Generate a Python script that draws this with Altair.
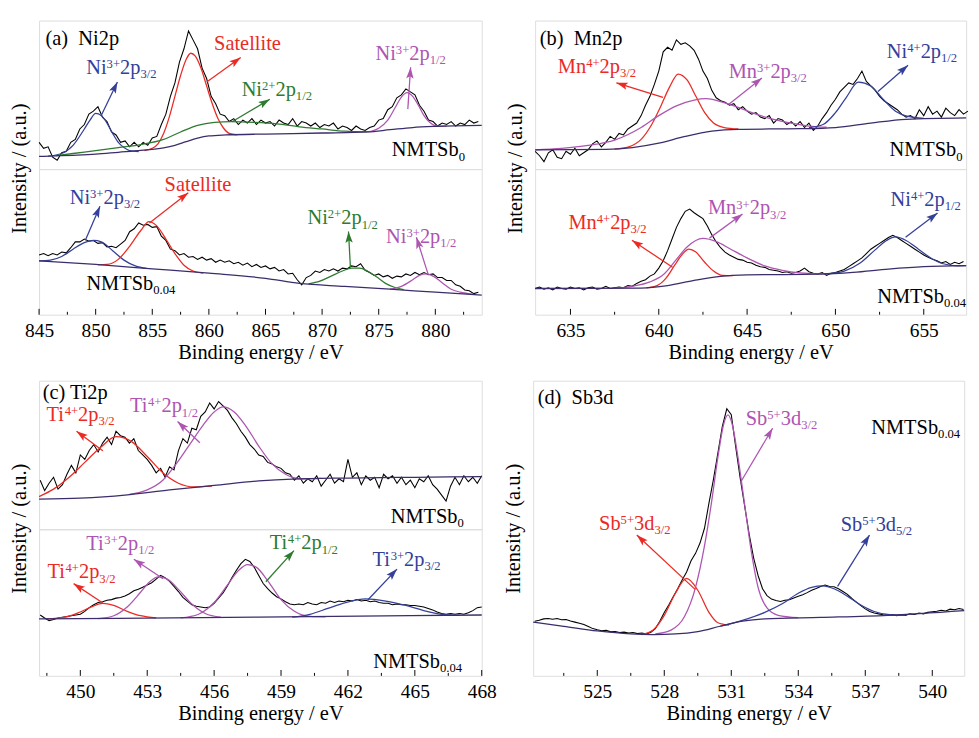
import math
import re
import altair as alt
import pandas as pd

FONT = "Liberation Serif"
FS = 21          # annotation / title font size
FS_TICK = 20     # tick label size
FS_S = 13        # super/subscript size
RED, BLUE, GREEN, MAG, BASE = "#ec2a24", "#34409a", "#2e7b30", "#ad55b1", "#3b2d6b"
ARROW_PATH = "M0,0 L-0.55,1.7 L0,1.35 L0.55,1.7 Z"

W_L, W_R = 456, 444
H_TOP, H_A_BOT, H_C_BOT, H_D = 153, 150, 151, 304

# ======================= data =======================
# ---- (a) Ni2p ----
A_XDOM = [845.0, 884.1]
A_E0, A_STEP = 845.0, 0.4
A_TOP_I = [18, 14, 15, 8, 6, 11, 12, 18, 20, 27,
           30, 37, 39, 42, 35, 32, 25, 23, 18, 19,
           15, 18, 15, 18, 16, 21, 22, 30, 37, 49,
           58, 72, 81, 93, 87, 81, 68, 61, 49, 44,
           37, 36, 32, 34, 30, 33, 31, 34, 30, 33,
           31, 32, 29, 33, 31, 30, 34, 29, 32, 31,
           29, 31, 28, 30, 29, 31, 27, 29, 28, 26,
           29, 27, 26, 28, 29, 33, 34, 40, 42, 48,
           50, 54, 52, 50, 43, 39, 33, 32, 29, 31,
           30, 32, 29, 31, 30, 33, 31, 32]
A_BOT_I = [41, 42, 40.5, 42, 41, 43, 42.5, 46, 50, 50,
           52, 50.5, 51, 49, 49.5, 46.5, 47, 46, 48.5, 51,
           57, 59, 63, 61.5, 62, 60, 60.5, 54, 51, 45,
           44, 41, 42, 39.5, 40, 38, 39.5, 37.5, 38.5, 36,
           37.5, 36, 37, 35, 36, 34, 35.5, 33, 34.5, 32.5,
           33.5, 31.5, 32.5, 30, 31, 28, 28.5, 24, 20.5, 25.5,
           27, 30, 29, 31, 30, 31.5, 30, 32, 31.5, 33.5,
           33, 35, 30.5, 29, 27, 28, 26, 27, 25, 26.5,
           26, 28, 27, 29, 27.5, 29, 27.5, 28, 25.5, 25.5,
           23.5, 23.5, 20.5, 19.5, 17, 16.5, 14.5, 15.5]
A_TOP_CURVES = {
    "bg": ([845.0, 846.0, 848, 850, 852, 854, 856, 857, 858, 859, 860, 861.5, 865, 870, 874, 876, 878, 880, 884.1],
           [8.5, 8.8, 9.3, 10, 11.3, 12.6, 14.3, 16, 18.5, 20.8, 22.3, 23, 23.6, 24.3, 25, 26.5, 28, 28.8, 29.5]),
    "Ni3+ 2p3/2": ([845.8, 847.0, 848.0, 849.0, 849.5, 850.0, 850.5, 851.0, 851.5, 852.0, 852.5, 853.0, 853.8],
                   [8.7, 10.5, 16, 27, 33, 37.5, 36, 31, 24, 18, 14.5, 12.5, 11.8]),
    "Satellite": ([854.3, 855.0, 855.5, 856.0, 856.5, 857.0, 857.5, 858.0, 858.4, 858.8, 859.3, 859.8, 860.3, 860.8, 861.3, 861.8, 862.5],
                  [12.5, 14, 17, 24, 35, 49, 63, 74, 78, 76, 68, 56, 44, 34, 27.5, 24, 23]),
    "Ni2+ 2p1/2": ([846.5, 848, 850, 852, 854, 856, 857.5, 859, 860.5, 862, 864, 866, 868, 870, 872, 874],
                   [9, 10.5, 12.5, 14.5, 16.5, 20, 25, 29.5, 31.5, 32, 31.5, 30.5, 28.5, 27, 25.5, 25]),
    "Ni3+ 2p1/2": ([874.0, 875.0, 875.8, 876.5, 877.0, 877.5, 878.0, 878.5, 879.0, 879.5, 880.2, 881.0],
                   [25, 27.5, 33, 42, 48.5, 51.5, 49, 43, 36, 31.5, 29, 29]),
}
A_BOT_CURVES = {
    "bg": ([845.0, 850, 855, 860, 865, 868, 872, 876, 880, 884.1],
           [37, 34.5, 31.5, 28.5, 25, 21.5, 19.5, 17.5, 15.5, 13.5]),
    "Ni3+ 2p3/2": ([845.0, 846, 847, 848, 849, 849.8, 850.5, 851.5, 852.5, 853.5, 854.5],
                   [37, 37.5, 40, 45, 49.5, 51, 50, 44, 37.5, 33.5, 31.8]),
    "Satellite": ([850.2, 851.0, 852.0, 853.0, 854.0, 854.7, 855.4, 856.2, 857.0, 857.8, 858.6, 859.5],
                  [34.3, 34.5, 38, 47, 58, 64, 61, 52, 42, 34, 30, 28.5]),
    "Ni2+ 2p1/2": ([868.8, 869.8, 870.8, 871.8, 872.6, 873.3, 874.0, 874.8, 875.6, 876.5, 877.2],
                   [21.2, 23, 26.5, 30, 32, 32, 30, 26, 21.5, 18.5, 17.3]),
    "Ni3+ 2p1/2": ([876.0, 877.0, 878.0, 878.6, 879.2, 879.8, 880.6, 881.4, 882.2, 883.4],
                   [17.5, 19.5, 24, 27, 28, 26.5, 22, 17.5, 15.5, 14]),
}
A_MAJOR = [845, 850, 855, 860, 865, 870, 875, 880]
A_MINOR = [847.5, 852.5, 857.5, 862.5, 867.5, 872.5, 877.5, 882.5]

# ---- (b) Mn2p ----
B_XDOM = [633.0, 657.4]
B_E0, B_STEP = 633.0, 0.25
B_TOP_I = [12, 9, 5, 11, 13, 8, 7, 12, 10, 14, 9, 11,
           13, 17, 19, 15, 18, 22, 20, 24, 23, 27,
           29, 31, 36, 43, 49, 57,
           66, 79, 82, 80, 87, 84, 85, 83, 80, 74, 66, 61,
           53, 48, 46, 45, 43, 44, 40, 42, 39, 37, 38, 35, 34, 36, 31, 34, 33, 30, 32, 29,
           32, 28, 31, 26, 29, 34,
           38, 43, 47, 52, 55, 58, 57, 61, 66, 59, 56, 53, 49, 46, 44, 42, 40,
           37, 35, 36, 34, 40, 36, 42, 37, 39, 35, 41, 38, 36, 40, 37, 39]
B_BOT_I = [18, 19, 17.5, 18.5, 17, 19, 18, 17.5, 19, 18,
           18.5, 17, 18.5, 19, 17.5, 18, 19.5, 18, 18.5, 19,
           18.5, 20, 19.5, 21.5, 23, 24, 26.5, 28, 32, 37,
           44, 52, 60, 66, 71, 72.5, 70, 68, 66, 61,
           55, 50, 46, 43, 41, 39.5, 38, 37.5, 36, 35.5,
           34, 33, 32.5, 31, 30.5, 30, 29, 29.5, 28.5, 29,
           30, 32, 29.5, 28.5, 28, 29, 27, 28.5, 29, 30,
           31, 33, 35, 37, 39, 42, 45, 47, 49, 51,
           53, 54.5, 53, 51, 49, 47, 45, 43, 41, 39.5,
           38, 37, 35.5, 36.5, 34.5, 36, 35, 36.5]
B_TOP_CURVES = {
    "bg": ([633, 637, 638.5, 640, 641.5, 643, 644.5, 648, 650, 652, 654, 657.4],
           [13, 13.3, 14.5, 17.5, 22, 25.5, 26.8, 27.2, 28, 31, 33.5, 34.5]),
    "Mn4+ 2p3/2": ([637.5, 638.3, 639.0, 639.6, 640.1, 640.6, 641.1, 641.6, 642.1, 642.6, 643.1, 643.7, 644.5],
                   [13.5, 15, 20, 30, 42, 55, 64, 60, 49, 38, 31, 28, 27]),
    "Mn3+ 2p3/2": ([633, 634.5, 636, 637.5, 639, 640, 641, 642, 642.7, 643.5, 644.5, 645.5, 646.5, 647.5, 648.5, 649.5],
                   [13, 14, 16, 19.5, 28, 36, 42.6, 46.5, 47.4, 45.5, 41.5, 37, 33.5, 31, 29, 28.2]),
    "Ni4+ 2p1/2": ([648.5, 649.3, 650.0, 650.6, 651.3, 652.0, 652.7, 653.4, 654.1, 655.0],
                   [28, 30, 38, 48, 58.5, 56, 47, 39, 35.5, 34.2]),
}
B_BOT_CURVES = {
    "bg": ([633, 639, 640.5, 642, 643.5, 645, 649, 651, 653, 655, 657.4],
           [18, 18.3, 20, 23.5, 26.3, 27.3, 27.8, 29, 31.3, 33, 33.7]),
    "Mn4+ 2p3/2": ([639.3, 639.9, 640.4, 640.9, 641.3, 641.7, 642.1, 642.6, 643.1, 643.6, 644.2],
                   [18.5, 20, 25, 34, 41, 45, 43, 36, 30, 27, 26.8]),
    "Mn3+ 2p3/2": ([637.5, 638.5, 639.5, 640.3, 641.0, 641.6, 642.5, 643.3, 644.0, 645, 646, 647, 648, 649.4],
                   [18.2, 19.5, 22.5, 28, 38, 46.5, 52.4, 50, 45.5, 39, 33.5, 30.5, 28.8, 28]),
    "Ni4+ 2p1/2": ([649.4, 650.5, 651.4, 652.2, 652.9, 653.4, 654.0, 654.7, 655.4, 656.1, 656.9, 657.4],
                   [28, 30, 35.5, 44, 51, 53.4, 51, 45, 39, 35, 33.6, 33.7]),
}
B_MAJOR = [635, 640, 645, 650, 655]
B_MINOR = [637.5, 642.5, 647.5, 652.5]

# ---- (c) Ti2p ----
C_XDOM = [448.15, 468.0]
C_E0, C_STEP = 448.2, 0.2
C_TOP_I = [33, 26, 31, 35, 27, 30, 37, 43, 38, 50,
           47, 53, 57, 52, 58, 62, 57, 66, 63, 62,
           58, 61, 53, 50, 47, 43, 38, 41, 35, 42,
           40, 53, 61, 58, 68, 67, 76, 79, 85, 81,
           86, 83, 80, 75, 71, 66, 62, 57, 54, 50,
           49, 45, 44, 42, 41, 38, 37, 33, 36, 31,
           34, 32, 36, 29, 33, 37, 31, 34, 32, 47,
           35, 38, 30, 36, 33, 35, 28, 37, 34, 36,
           31, 35, 30, 33, 28, 34, 32, 36, 30, 27,
           23, 19, 29, 35, 30, 36, 32, 35, 31, 36]
C_BOT_I = [41.5, 39.5, 37.7, 38.5, 39.5, 40, 40.5, 41, 41.5, 42,
           44, 46.5, 48.5, 50, 50.5, 51.5, 52, 53, 53.5, 54.5,
           56, 58, 59, 60.5, 62, 63.5, 66, 68.5, 67, 64.5,
           61, 57.5, 53.5, 51, 48.5, 47.5, 47, 46.5, 47, 49.5,
           53, 56.5, 61.5, 67, 72, 76.5, 79.5, 78, 74, 68.5,
           63, 59.5, 56.5, 54, 52.5, 50.5, 49, 48.5, 49, 48.5,
           50, 49, 48.5, 50, 49.5, 51, 50, 51, 50.5, 51.5,
           51, 52, 51, 51.5, 50.5, 51, 50, 49.5, 49.5, 48.5,
           49, 48.5, 48.5, 48, 48, 47.5, 47, 46, 45, 43.5,
           42.5, 42, 42.5, 42, 42.5, 42, 43, 44.5, 46.5, 47]
C_TOP_CURVES = {
    "bg": ([448.15, 450, 452, 454, 456, 458, 459.5, 462, 465, 468],
           [20.3, 21, 23, 26.5, 29.5, 32.5, 33.8, 34.5, 35, 35.5]),
    "Ti4+ 2p3/2": ([448.15, 448.8, 449.5, 450.2, 450.9, 451.6, 452.3, 453.0, 453.7, 454.4, 455.1, 455.9],
                   [22, 27, 35, 45, 55, 62.3, 59, 49, 38, 31, 28.5, 29]),
    "Ti4+ 2p1/2": ([452.2, 453.0, 453.7, 454.3, 454.9, 455.5, 456.0, 456.4, 456.9, 457.4, 458.0, 458.6, 459.2, 459.9, 460.8],
                   [23.5, 26.5, 33, 44, 57, 70, 79, 82.4, 79, 70, 56, 44, 37, 34, 34.2]),
}
C_BOT_CURVES = {
    "bg": ([448.15, 458, 468], [38.8, 40, 41.5]),
    "Ti4+ 2p3/2": ([448.5, 449.3, 449.9, 450.5, 451.0, 451.5, 452.1, 452.7, 453.4],
                   [38.8, 40, 43, 47, 49.4, 48, 44, 41, 39.5]),
    "Ti3+ 2p1/2": ([450.8, 451.5, 452.1, 452.7, 453.1, 453.5, 453.9, 454.4, 455.0, 455.6, 456.3],
                   [39, 41, 47, 57, 64, 67.5, 66, 59, 49, 42.5, 40]),
    "Ti4+ 2p1/2": ([454.5, 455.3, 456.0, 456.6, 457.1, 457.5, 457.9, 458.4, 459.0, 459.6, 460.3, 461],
                   [39.5, 42, 50, 62, 72, 75.9, 74, 65, 52, 44, 40.5, 40.2]),
    "Ti3+ 2p3/2": ([459.5, 460.3, 461.1, 461.9, 462.8, 463.7, 464.6, 465.4, 466.2, 467],
                   [40, 42, 46, 50, 52.5, 51, 48, 44.5, 42, 41.3]),
}
C_MAJOR = [450, 453, 456, 459, 462, 465, 468]
C_MINOR = [448.5, 451.5, 454.5, 457.5, 460.5, 463.5, 466.5]

# ---- (d) Sb3d ----
D_XDOM = [522.13, 541.43]
D_E0, D_STEP = 522.2, 0.2
D_I = [18.5, 18.8, 19.3, 19.4, 19.2, 19.4, 19.0, 19.1, 18.6, 18.2,
       17.8, 17.4, 16.7, 16.0, 15.6, 15.3, 15.4, 14.9, 15.0, 14.7,
       14.8, 14.5, 14.7, 14.3, 14.5, 14.2, 14.8, 16.0, 18.5, 21.5,
       24, 26.8, 29.5, 32.5, 35.2, 39, 41.5, 45, 50, 58.5,
       66.5, 75.5, 84.5, 90.5, 88.5, 77.5, 67, 57.5, 48, 40,
       34, 29.5, 27.2, 26, 25.5, 25.2, 25.6, 25.8, 26.4, 27,
       27.5, 28.2, 29, 29.6, 30.3, 30.8, 30.3, 30.2, 29.5, 28.6,
       27.6, 26.2, 25.0, 23.8, 22.7, 21.8, 21.3, 21, 20.7, 20.5,
       20.8, 20.4, 20.7, 20.5, 21, 20.8, 21.3, 21.0, 21.5, 21.7,
       21.9, 22.2, 22.0, 22.6, 22.4, 22.8, 22.5]
D_CURVES = {
    "bg": ([522.13, 523.5, 525, 526.5, 527.5, 528.5, 529.5, 530.5, 531.5, 532.5, 535, 538, 541.43],
           [18.2, 16.8, 15.2, 14.2, 14, 14.2, 15, 16.8, 18.5, 19.3, 19.8, 20.5, 22.1]),
    "Sb5+ 3d3/2 (low)": ([527.0, 527.5, 528.0, 528.5, 529.0, 529.5, 530.0, 530.4, 530.9],
                         [14, 15.5, 20.5, 28, 33, 29, 21.5, 18, 17.2]),
    "Sb5+ 3d3/2": ([527.6, 528.3, 528.9, 529.4, 529.8, 530.1, 530.4, 530.65, 530.85, 531.05, 531.3, 531.6, 531.9, 532.2, 532.6, 533.1, 534.0],
                   [14.2, 15.5, 20, 30, 44, 58, 74, 85, 88.4, 85, 74, 58, 42, 30, 23, 20.5, 19.7]),
    "Sb5+ 3d5/2": ([530.5, 531.5, 532.5, 533.3, 534.0, 534.6, 535.1, 535.6, 536.2, 536.8, 537.4, 538.1, 538.8],
                   [16.8, 18.8, 21.5, 24.5, 28, 30, 30.5, 29.5, 27, 24, 21.8, 20.7, 20.5]),
}
D_MAJOR = [525, 528, 531, 534, 537, 540]
D_MINOR = [523.5, 526.5, 529.5, 532.5, 535.5, 538.5]

# ---- annotation texts (^{} superscript, _{} subscript) and anchors (energy, intensity) ----
A_TOP_TEXT = ["(a)\u00a0 Ni2p", "Ni^{3+}2p_{3/2}", "Satellite", "Ni^{2+}2p_{1/2}", "Ni^{3+}2p_{1/2}", "NMTSb_{0}"]
A_TOP_TE = [845.57, 852.27, 863.41, 866.0, 877.82, 882.62]
A_TOP_TI = [87.6, 68.6, 84.3, 53.5, 77.7, 12.9]
A_BOT_TEXT = ["Ni^{3+}2p_{3/2}", "Satellite", "Ni^{2+}2p_{1/2}", "Ni^{3+}2p_{1/2}", "NMTSb_{0.04}"]
A_BOT_TE = [850.81, 859.04, 871.81, 878.76, 849.18]
A_BOT_TI = [80.5, 89.2, 66.5, 53.9, 21.3]
B_TOP_TEXT = ["(b)\u00a0 Mn2p", "Mn^{4+}2p_{3/2}", "Mn^{3+}2p_{3/2}", "Ni^{4+}2p_{1/2}", "NMTSb_{0}"]
B_TOP_TE = [633.26, 636.5, 646.17, 654.9, 657.2]
B_TOP_TI = [87.6, 69.2, 65.9, 79.0, 12.9]
B_BOT_TEXT = ["Mn^{4+}2p_{3/2}", "Mn^{3+}2p_{3/2}", "Ni^{4+}2p_{1/2}", "NMTSb_{0.04}"]
B_BOT_TE = [637.10, 645.0, 655.11, 657.4]
B_BOT_TI = [63.2, 73.2, 79.2, 12.6]
C_TOP_TEXT = ["(c) Ti2p", "Ti^{4+}2p_{3/2}", "Ti^{4+}2p_{1/2}", "NMTSb_{0}"]
C_TOP_TE = [448.31, 450.01, 453.75, 467.2]
C_TOP_TI = [92.2, 77.1, 83.0, 8.5]
C_BOT_TEXT = ["Ti^{4+}2p_{3/2}", "Ti^{3+}2p_{1/2}", "Ti^{4+}2p_{1/2}", "Ti^{3+}2p_{3/2}", "NMTSb_{0.04}"]
C_BOT_TE = [450.05, 451.79, 460.02, 464.63, 467.12]
C_BOT_TI = [70.9, 90.1, 90.7, 79.5, 9.9]
D_TEXT = ["(d)\u00a0 Sb3d", "Sb^{5+}3d_{3/2}", "NMTSb_{0.04}", "Sb^{5+}3d_{3/2}", "Sb^{5+}3d_{5/2}"]
D_TE = [522.33, 533.25, 541.25, 526.68, 537.5]
D_TI = [94.1, 87.2, 84.2, 51.6, 51.3]

# arrows: (start E, start I, tip E, tip I)
A_TOP_ARROWS = [(850.47, 35.8, 851.92, 58.7), (859.81, 58.7, 862.81, 75.1),
                (862.04, 31.9, 865.38, 47.0), (877.57, 40.4, 877.82, 68.6)]
A_BOT_ARROWS = [(849.09, 51.2, 850.38, 74.5), (854.75, 63.0, 858.18, 83.8),
                (872.5, 32.6, 872.33, 57.2), (879.36, 27.9, 878.33, 53.2)]
B_TOP_ARROWS = [(640.24, 48.3, 637.6, 58.1), (643.97, 43.7, 645.84, 61.4), (652.41, 52.2, 654.11, 69.9)]
B_BOT_ARROWS = [(640.78, 32.6, 638.48, 51.2), (642.87, 52.6, 644.74, 69.2), (653.97, 53.2, 655.78, 69.9)]
C_TOP_ARROWS = [(451.01, 52.9, 449.83, 66.0), (455.36, 58.2, 454.36, 72.5)]
C_BOT_ARROWS = [(451.01, 49.7, 449.70, 62.9), (453.71, 66.2, 452.40, 79.5),
                (458.32, 64.2, 459.58, 85.4), (462.89, 51.7, 464.2, 72.8)]
D_ARROWS = [(531.41, 65.5, 532.85, 83.9), (529.38, 29.3, 526.77, 47.7), (535.76, 30.3, 537.19, 47.7)]

# ======================= styles =======================
CURVE_COLOR = {"bg": BASE, "Ni3+ 2p3/2": BLUE, "Satellite": RED, "Ni2+ 2p1/2": GREEN,
               "Ni3+ 2p1/2": MAG, "Mn4+ 2p3/2": RED, "Mn3+ 2p3/2": MAG, "Ni4+ 2p1/2": BLUE,
               "Ti4+ 2p3/2": RED, "Ti4+ 2p1/2": MAG, "Ti3+ 2p1/2": MAG, "Ti3+ 2p3/2": BLUE,
               "Sb5+ 3d3/2 (low)": RED, "Sb5+ 3d3/2": MAG, "Sb5+ 3d5/2": BLUE}
A_TOP_TSTYLE = [("black", "left"), (BLUE, "center"), (RED, "center"), (GREEN, "center"), (MAG, "center"), ("black", "right")]
A_BOT_TSTYLE = [(BLUE, "center"), (RED, "center"), (GREEN, "center"), (MAG, "center"), ("black", "left")]
B_TOP_TSTYLE = [("black", "left"), (RED, "center"), (MAG, "center"), (BLUE, "center"), ("black", "right")]
B_BOT_TSTYLE = [(RED, "center"), (MAG, "center"), (BLUE, "center"), ("black", "right")]
C_TOP_TSTYLE = [("black", "left"), (RED, "center"), (MAG, "center"), ("black", "right")]
C_BOT_TSTYLE = [(RED, "center"), (MAG, "center"), (GREEN, "center"), (BLUE, "center"), ("black", "right")]
D_TSTYLE = [("black", "left"), (MAG, "center"), ("black", "right"), (RED, "center"), (BLUE, "center")]
A_TOP_ACOL = [BLUE, RED, GREEN, MAG]
A_BOT_ACOL = [BLUE, RED, GREEN, MAG]
B_TOP_ACOL = [RED, MAG, BLUE]
B_BOT_ACOL = [RED, MAG, BLUE]
C_TOP_ACOL = [RED, MAG]
C_BOT_ACOL = [RED, MAG, GREEN, BLUE]
D_ACOL = [MAG, RED, BLUE]

# Times / Liberation Serif advance widths (em)
GLYPH_W = {"N": .722, "M": .889, "T": .611, "S": .556, "b": .5, "i": .278, "n": .5, "p": .5,
           "d": .5, "a": .444, "t": .278, "e": .444, "l": .278, "(": .333, ")": .333, " ": .25,
           "\u00a0": .25, "+": .564, "/": .278, ".": .25}
SEG_DY = {"n": 6.5, "sup": 0.5, "sub": 11.0}   # baseline shift (px, downward) from anchor centre


def parse_label(s):
    segs = []
    for m in re.finditer(r"\^\{([^}]*)\}|_\{([^}]*)\}|([^\^_]+)", s):
        if m.group(1) is not None:
            segs.append((m.group(1), "sup"))
        elif m.group(2) is not None:
            segs.append((m.group(2), "sub"))
        else:
            segs.append((m.group(3), "n"))
    return segs


def seg_width(text, kind):
    size = FS if kind == "n" else FS_S
    return sum(GLYPH_W.get(ch, .5) for ch in text) * size


def energies(e0, step, n):
    return [round(e0 + step * k, 3) for k in range(n)]


def subpanel(xdom, w, h, e0, step, inten, curves, texts, tes, tis, tstyle,
             arrows, acols, majors=None, minors=None, ytitle_y=None):
    xs = alt.Scale(domain=xdom, nice=False, zero=False)
    ys = alt.Scale(domain=[0, 100], nice=False, zero=False)
    if majors is not None:
        xaxis = alt.Axis(values=majors, format="d", ticks=False, domain=False, grid=False,
                         labelFlush=False, labelOverlap=False, labelPadding=6,
                         labelFont=FONT, labelFontSize=FS_TICK, labelColor="black",
                         title="Binding energy / eV", titleFont=FONT, titleFontSize=FS,
                         titleFontWeight="normal", titleColor="black", titlePadding=2)
    else:
        xaxis = None
    if ytitle_y is not None:
        yaxis = alt.Axis(labels=False, ticks=False, domain=False, grid=False,
                         title="Intensity / (a.u.)", titleFont=FONT, titleFontSize=FS,
                         titleFontWeight="normal", titleColor="black", titleX=-20,
                         titleY=ytitle_y, titleAngle=270, titleAlign="center",
                         titleBaseline="middle")
    else:
        yaxis = None

    def X(f="E"):
        return alt.X(f"{f}:Q", scale=xs, axis=xaxis)

    def Y(f="I"):
        return alt.Y(f"{f}:Q", scale=ys, axis=yaxis)

    ppx = w / (xdom[1] - xdom[0])
    ppy = h / 100.0

    spec = pd.DataFrame({"E": energies(e0, step, len(inten)), "I": inten})
    layers = [alt.Chart(spec).mark_line(color="black", strokeWidth=1.1).encode(x=X(), y=Y())]

    rows = []
    for name, (es, vs) in curves.items():
        if name == "bg":
            continue
        for e, v in zip(es, vs):
            rows.append({"E": e, "I": v, "k": name, "c": CURVE_COLOR[name]})
    layers.append(alt.Chart(pd.DataFrame(rows)).mark_line(strokeWidth=1.3, interpolate="monotone").encode(
        x=X(), y=Y(), color=alt.Color("c:N", scale=None), detail="k:N"))
    bes, bvs = curves["bg"]
    layers.append(alt.Chart(pd.DataFrame({"E": bes, "I": bvs})).mark_line(
        strokeWidth=1.3, color=BASE, interpolate="monotone").encode(x=X(), y=Y()))

    # arrows
    arows = []
    for (es, is_, et, it), col in zip(arrows, acols):
        dx = (et - es) * ppx
        dy = -(it - is_) * ppy
        ang = math.degrees(math.atan2(dx, -dy)) % 360
        arows.append({"E": es, "I": is_, "E2": et, "I2": it, "c": col, "ang": ang})
    adf = pd.DataFrame(arows)
    layers.append(alt.Chart(adf).mark_rule(strokeWidth=1.3).encode(
        x=X(), y=Y(), x2="E2:Q", y2="I2:Q", color=alt.Color("c:N", scale=None)))
    layers.append(alt.Chart(adf).mark_point(shape=ARROW_PATH, filled=True, size=190, opacity=1,
                                            strokeWidth=0).encode(
        x=X("E2"), y=Y("I2"), color=alt.Color("c:N", scale=None), angle=alt.Angle("ang:Q", scale=None)))

    # texts, split into normal / superscript / subscript runs
    trows = []
    for t, te, ti, (col, al) in zip(texts, tes, tis, tstyle):
        segs = parse_label(t)
        total = sum(seg_width(s, k) for s, k in segs)
        start = {"left": 0.0, "center": -total / 2, "right": -total}[al]
        cum = start
        for s, k in segs:
            trows.append({"E": te + cum / ppx, "I": ti - SEG_DY[k] / ppy, "t": s,
                          "fs": FS if k == "n" else FS_S, "c": col})
            cum += seg_width(s, k)
    layers.append(alt.Chart(pd.DataFrame(trows)).mark_text(
        font=FONT, align="left", baseline="alphabetic").encode(
        x=X(), y=Y(), text="t:N", size=alt.Size("fs:Q", scale=None),
        color=alt.Color("c:N", scale=None)))

    if majors is not None:
        layers.append(alt.Chart(pd.DataFrame({"E": majors})).mark_rule(color="black", strokeWidth=1).encode(
            x=X(), y=alt.value(h), y2=alt.value(h - 6)))
        layers.append(alt.Chart(pd.DataFrame({"E": minors})).mark_rule(color="black", strokeWidth=1).encode(
            x=X(), y=alt.value(h), y2=alt.value(h - 3)))

    return alt.layer(*layers).properties(width=w, height=h)


a_top = subpanel(A_XDOM, W_L, H_TOP, A_E0, A_STEP, A_TOP_I, A_TOP_CURVES, A_TOP_TEXT, A_TOP_TE, A_TOP_TI,
                 A_TOP_TSTYLE, A_TOP_ARROWS, A_TOP_ACOL, ytitle_y=152)
a_bot = subpanel(A_XDOM, W_L, H_A_BOT, A_E0, A_STEP, A_BOT_I, A_BOT_CURVES, A_BOT_TEXT, A_BOT_TE, A_BOT_TI,
                 A_BOT_TSTYLE, A_BOT_ARROWS, A_BOT_ACOL, majors=A_MAJOR, minors=A_MINOR)
b_top = subpanel(B_XDOM, W_R, H_TOP, B_E0, B_STEP, B_TOP_I, B_TOP_CURVES, B_TOP_TEXT, B_TOP_TE, B_TOP_TI,
                 B_TOP_TSTYLE, B_TOP_ARROWS, B_TOP_ACOL, ytitle_y=152)
b_bot = subpanel(B_XDOM, W_R, H_A_BOT, B_E0, B_STEP, B_BOT_I, B_BOT_CURVES, B_BOT_TEXT, B_BOT_TE, B_BOT_TI,
                 B_BOT_TSTYLE, B_BOT_ARROWS, B_BOT_ACOL, majors=B_MAJOR, minors=B_MINOR)
c_top = subpanel(C_XDOM, W_L, H_TOP, C_E0, C_STEP, C_TOP_I, C_TOP_CURVES, C_TOP_TEXT, C_TOP_TE, C_TOP_TI,
                 C_TOP_TSTYLE, C_TOP_ARROWS, C_TOP_ACOL, ytitle_y=152)
c_bot = subpanel(C_XDOM, W_L, H_C_BOT, C_E0, C_STEP, C_BOT_I, C_BOT_CURVES, C_BOT_TEXT, C_BOT_TE, C_BOT_TI,
                 C_BOT_TSTYLE, C_BOT_ARROWS, C_BOT_ACOL, majors=C_MAJOR, minors=C_MINOR)
d_pan = subpanel(D_XDOM, W_R, H_D, D_E0, D_STEP, D_I, D_CURVES, D_TEXT, D_TE, D_TI,
                 D_TSTYLE, D_ARROWS, D_ACOL, majors=D_MAJOR, minors=D_MINOR, ytitle_y=152)

pa = alt.vconcat(a_top, a_bot, spacing=0, bounds="flush")
pb = alt.vconcat(b_top, b_bot, spacing=0, bounds="flush")
pc = alt.vconcat(c_top, c_bot, spacing=0, bounds="flush")
row1 = alt.hconcat(pa, pb, spacing=19)
row2 = alt.hconcat(pc, d_pan, spacing=5)

chart = alt.vconcat(row1, row2, spacing=17).properties(
    padding={"left": 0, "top": 1, "right": 0, "bottom": 0}
).configure_view(stroke="black", strokeWidth=1.1).configure(background="white")

chart.save("out.html", embed_options={"renderer": "svg", "actions": False})
